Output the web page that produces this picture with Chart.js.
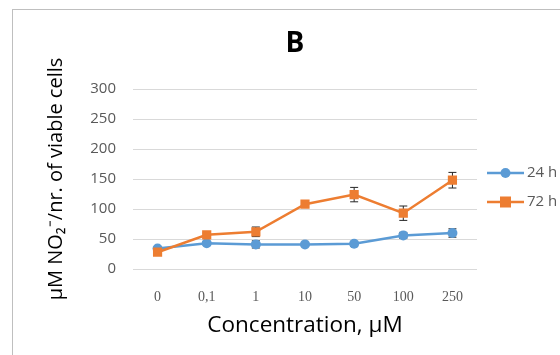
<!DOCTYPE html>
<html>
<head>
<meta charset="utf-8">
<script src="https://cdn.jsdelivr.net/npm/chart.js@4.4.1/dist/chart.umd.min.js"></script>
<style>
  html, body { margin: 0; padding: 0; background: #fff; overflow: hidden; }
  #wrap { position: relative; width: 560px; height: 355px; }
  #frame { position: absolute; left: 12px; top: 9px; width: 620px; height: 420px; border: 1.5px solid #bfbfbf; box-sizing: border-box; }
  #chart { position: absolute; left: 0; top: 0; }
</style>
</head>
<body>
<div id="wrap">
  <div id="frame"></div>
  <canvas id="chart" width="560" height="355"></canvas>
</div>
<script>
// 数据
const concentrations = ['0', '0,1', '1', '10', '50', '100', '250'];
const values24h = [34, 43, 41, 41, 42, 56, 60];
const errors24h = [2, 3, 6, 3, 4, 5, 7];
const values72h = [28, 57, 62, 108, 124, 93, 148];
const errors72h = [2, 3, 8, 3, 12, 12, 13];
const yTicks = [0, 50, 100, 150, 200, 250, 300];

const BLUE = '#5b9bd5';
const ORANGE = '#ed7d31';
const GREY = '#595959';

// 误差线
const errorBars = {
  id: 'errorBars',
  beforeDatasetsDraw(chart) {
    const ctx = chart.ctx;
    const y = chart.scales.y;
    ctx.save();
    ctx.strokeStyle = '#262626';
    ctx.lineWidth = 1;
    chart.data.datasets.forEach((ds, i) => {
      const meta = chart.getDatasetMeta(i);
      meta.data.forEach((pt, j) => {
        const e = ds.errors[j];
        const top = y.getPixelForValue(ds.data[j] + e);
        const bot = y.getPixelForValue(ds.data[j] - e);
        ctx.beginPath();
        ctx.moveTo(pt.x, top); ctx.lineTo(pt.x, bot);
        ctx.moveTo(pt.x - 4, top); ctx.lineTo(pt.x + 4, top);
        ctx.moveTo(pt.x - 4, bot); ctx.lineTo(pt.x + 4, bot);
        ctx.stroke();
      });
    });
    ctx.restore();
  }
};

// 标题和图例
const titleAndLegend = {
  id: 'titleAndLegend',
  afterDraw(chart) {
    const ctx = chart.ctx;
    const area = chart.chartArea;
    ctx.save();
    ctx.fillStyle = '#000';
    ctx.font = 'bold 28px "Open Sans"';
    ctx.textAlign = 'center';
    ctx.textBaseline = 'middle';
    ctx.fillText('B', 295, 44);

    const x0 = area.right + 10;
    chart.data.datasets.forEach((ds, i) => {
      const yy = 173 + i * 29;
      ctx.strokeStyle = ds.borderColor;
      ctx.lineWidth = 2.5;
      ctx.beginPath();
      ctx.moveTo(x0, yy); ctx.lineTo(x0 + 37, yy);
      ctx.stroke();
      ctx.fillStyle = ds.backgroundColor;
      if (ds.pointStyle === 'rect') {
        ctx.fillRect(x0 + 13, yy - 5.5, 11, 11);
      } else {
        ctx.beginPath();
        ctx.arc(x0 + 18.5, yy, 5, 0, Math.PI * 2);
        ctx.fill();
      }
      ctx.fillStyle = GREY;
      ctx.font = '15px "Open Sans"';
      ctx.textAlign = 'left';
      ctx.fillText(ds.label, x0 + 40, yy);
    });
    ctx.restore();
  }
};

new Chart(document.getElementById('chart'), {
  type: 'line',
  data: {
    labels: concentrations,
    datasets: [
      {
        label: '24 h',
        data: values24h,
        errors: errors24h,
        borderColor: BLUE,
        backgroundColor: BLUE,
        borderWidth: 2.5,
        pointStyle: 'circle',
        pointRadius: 5,
        pointBorderWidth: 0,
        tension: 0,
        order: 1
      },
      {
        label: '72 h',
        data: values72h,
        errors: errors72h,
        borderColor: ORANGE,
        backgroundColor: ORANGE,
        borderWidth: 2.5,
        pointStyle: 'rect',
        pointRadius: 6.5,
        pointBorderWidth: 0,
        tension: 0,
        order: 0
      }
    ]
  },
  options: {
    responsive: false,
    animation: false,
    layout: {
      padding: { left: 44, right: 83, top: 89, bottom: 16 }
    },
    plugins: {
      legend: { display: false },
      title: { display: false },
      tooltip: { enabled: false }
    },
    scales: {
      x: {
        offset: true,
        afterFit(axis) { axis.height = 70; },
        grid: { display: false, drawTicks: false },
        border: { display: false },
        ticks: {
          color: GREY,
          padding: 20,
          font: { family: '"Liberation Serif"', size: 14 }
        },
        title: {
          display: true,
          text: 'Concentration, μM',
          color: '#000',
          padding: { top: 0, bottom: 0 },
          font: { family: '"Open Sans"', size: 22.5 }
        }
      },
      y: {
        min: yTicks[0],
        max: yTicks[yTicks.length - 1],
        afterBuildTicks(axis) {
          axis.ticks = yTicks.map(v => ({ value: v }));
        },
        afterFit(axis) { axis.width = 89; },
        grid: { color: '#d9d9d9', lineWidth: 1, drawTicks: false },
        border: { display: false },
        ticks: {
          color: GREY,
          padding: 17,
          font: { family: '"Open Sans"', size: 15 }
        },
        title: {
          display: true,
          text: 'μM NO₂⁻/nr. of viable cells',
          color: '#000',
          padding: { top: 0, bottom: 0 },
          font: { family: '"Open Sans"', size: 20 }
        }
      }
    }
  },
  plugins: [errorBars, titleAndLegend]
});
</script>
</body>
</html>
